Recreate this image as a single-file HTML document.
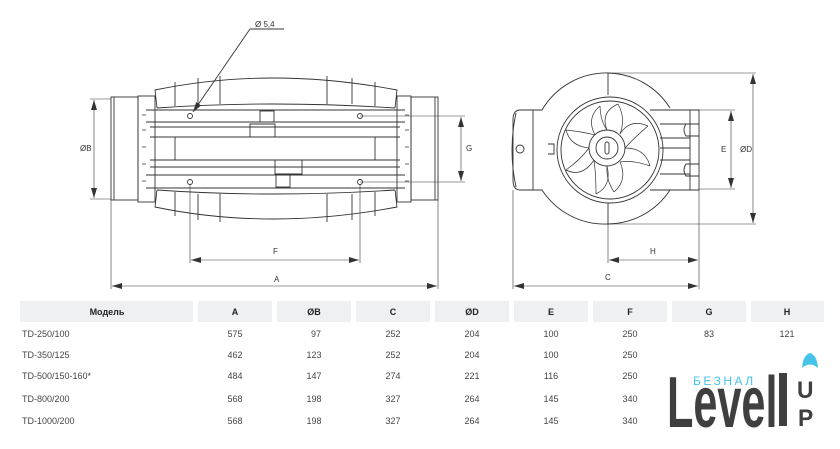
<!DOCTYPE html>
<html><head><meta charset="utf-8"><style>
body{margin:0;background:#fff;}
svg text{font-family:"Liberation Sans",sans-serif;}
</style></head><body>
<svg width="840" height="444" viewBox="0 0 840 444" xmlns="http://www.w3.org/2000/svg">
<defs>
<marker id="ar" viewBox="0 0 10 6" refX="10" refY="3" markerWidth="10" markerHeight="6" orient="auto-start-reverse" markerUnits="userSpaceOnUse"><path d="M0,0 L10,3 L0,6 z" fill="#333"/></marker>
</defs>
<g stroke="#333" stroke-width="0.9" fill="none">
<rect x="111" y="97" width="27" height="103"/>
<line x1="114" y1="97" x2="114" y2="200"/>
<rect x="411" y="97" width="27" height="103"/>
<line x1="435" y1="97" x2="435" y2="200"/>
<rect x="138" y="96" width="17" height="106"/>
<rect x="397" y="96" width="14" height="106"/>
<path d="M157,108 L155,90 Q270,66 397,90 L395,108"/>
<path d="M157,108 Q270,100 395,108"/>
<path d="M157,190 L155,207 Q270,231 397,207 L395,190"/>
<path d="M157,190 Q270,198 395,190"/>
<line x1="175" y1="82" x2="175" y2="106"/><line x1="198" y1="78" x2="198" y2="104"/><line x1="220" y1="76" x2="220" y2="104"/>
<line x1="327" y1="76" x2="327" y2="104"/><line x1="352" y1="78" x2="352" y2="104"/><line x1="375" y1="82" x2="375" y2="106"/>
<line x1="175" y1="192" x2="175" y2="216"/><line x1="198" y1="194" x2="198" y2="220"/><line x1="220" y1="194" x2="220" y2="222"/>
<line x1="327" y1="194" x2="327" y2="222"/><line x1="352" y1="194" x2="352" y2="220"/><line x1="375" y1="192" x2="375" y2="216"/>
<line x1="146" y1="110" x2="405" y2="110"/>
<line x1="146" y1="122" x2="405" y2="122"/>
<line x1="150" y1="127" x2="400" y2="127"/>
<line x1="150" y1="137" x2="400" y2="137"/>
<line x1="150" y1="160" x2="400" y2="160"/>
<line x1="150" y1="167" x2="400" y2="167"/>
<line x1="146" y1="175" x2="405" y2="175"/>
<line x1="146" y1="188" x2="405" y2="188"/>
<line x1="175" y1="137" x2="175" y2="160"/><line x1="375" y1="137" x2="375" y2="160"/>
<path d="M250,137 L250,124 L275,124 L275,137"/>
<path d="M275,160 L275,174 L302,174 L302,160"/>
<rect x="260" y="111" width="14" height="11"/>
<rect x="276" y="175" width="14" height="12"/>
<g stroke-width="0.7">
<path d="M146,115 h-4 M146,130 h-4 M146,147 h-4 M146,164 h-4 M146,181 h-4"/>
<path d="M405,115 h4 M405,130 h4 M405,147 h4 M405,164 h4 M405,181 h4"/>
</g>
<circle cx="190" cy="116" r="2.5"/><circle cx="360" cy="116" r="2.5"/>
<circle cx="190" cy="182" r="2.5"/><circle cx="360" cy="182" r="2.5"/>
<line x1="284" y1="29" x2="250" y2="29"/>
<line x1="250" y1="29" x2="193" y2="112" marker-end="url(#ar)"/>
<g stroke-width="0.6">
<line x1="90" y1="99" x2="111" y2="99"/><line x1="90" y1="199" x2="111" y2="199"/>
<line x1="94" y1="100" x2="94" y2="198" marker-start="url(#ar)" marker-end="url(#ar)"/>
<line x1="360" y1="116" x2="465" y2="116"/><line x1="360" y1="182" x2="465" y2="182"/>
<line x1="461" y1="117" x2="461" y2="181" marker-start="url(#ar)" marker-end="url(#ar)"/>
<line x1="190" y1="185" x2="190" y2="263"/><line x1="360" y1="185" x2="360" y2="263"/>
<line x1="191" y1="260" x2="359" y2="260" marker-start="url(#ar)" marker-end="url(#ar)"/>
<line x1="111" y1="200" x2="111" y2="289"/><line x1="438" y1="200" x2="438" y2="289"/>
<line x1="112" y1="286" x2="437" y2="286" marker-start="url(#ar)" marker-end="url(#ar)"/>
</g>

<path d="M608,73 A75,75 0 0 0 542,110 L520,110 Q513,110 513,120 L513,180 Q513,190 520,190 L542,190 A75,75 0 0 0 608,224"/>
<path d="M608,73 A75,75 0 0 1 670,108"/>
<path d="M608,224 A75,75 0 0 0 670,190"/>
<line x1="608" y1="73" x2="608" y2="95"/><line x1="608" y1="203" x2="608" y2="224"/>
<path d="M533,110 L533,190"/>
<path d="M516,113 Q508,150 516,187"/>
<circle cx="520" cy="149" r="4"/>
<circle cx="610" cy="150" r="53"/>
<circle cx="610" cy="150" r="49"/>
<circle cx="607" cy="148" r="18"/>
<circle cx="607" cy="148" r="11"/>
<rect x="605" y="142" width="4" height="12" rx="2"/>
<g stroke-width="0.7">
<path d="M607,130 Q600,112 618,104"/><path d="M620,134 Q630,118 648,126"/>
<path d="M625,148 Q645,148 650,166"/><path d="M620,162 Q628,180 614,192"/>
<path d="M607,166 Q612,186 596,194"/><path d="M594,160 Q582,178 566,170"/>
<path d="M589,148 Q570,146 566,130"/><path d="M595,135 Q586,118 600,106"/>
<path d="M618,104 Q626,118 620,134"/><path d="M648,126 Q636,136 625,148"/>
<path d="M650,166 Q634,160 620,162"/><path d="M614,192 Q606,180 607,166"/>
<path d="M596,194 Q596,174 594,160"/><path d="M566,170 Q580,160 589,148"/>
<path d="M566,130 Q584,132 595,135"/><path d="M600,106 Q600,120 607,130"/>
</g>
<path d="M650,110 L699,110 L699,190 L650,190"/>
<line x1="690" y1="110" x2="690" y2="190"/>
<line x1="660" y1="124" x2="690" y2="124"/><line x1="660" y1="138" x2="690" y2="138"/>
<line x1="660" y1="148" x2="690" y2="148"/><line x1="660" y1="160" x2="690" y2="160"/>
<line x1="660" y1="174" x2="690" y2="174"/>
<path d="M699,124 L686,124 Q682,130 686,136 L699,136"/>
<path d="M699,164 L686,164 Q682,170 686,176 L699,176"/>
<path d="M548,144 h6 v10 h-6"/>
<g stroke-width="0.6">
<line x1="608" y1="73" x2="756" y2="73"/><line x1="608" y1="224" x2="756" y2="224"/>
<line x1="753" y1="74" x2="753" y2="223" marker-start="url(#ar)" marker-end="url(#ar)"/>
<line x1="699" y1="110" x2="735" y2="110"/><line x1="699" y1="189" x2="735" y2="189"/>
<line x1="731" y1="111" x2="731" y2="188" marker-start="url(#ar)" marker-end="url(#ar)"/>
<line x1="608" y1="224" x2="608" y2="263"/><line x1="699" y1="190" x2="699" y2="289"/>
<line x1="609" y1="260" x2="698" y2="260" marker-start="url(#ar)" marker-end="url(#ar)"/>
<line x1="513" y1="190" x2="513" y2="289"/>
<line x1="514" y1="286" x2="698" y2="286" marker-start="url(#ar)" marker-end="url(#ar)"/>
</g>
</g>
<g fill="#333" font-size="8">
<text x="255" y="27">Ø 5,4</text>
<text x="80" y="151">ØB</text>
<text x="466" y="151">G</text>
<text x="273" y="254">F</text>
<text x="274" y="282">A</text>
<text x="721" y="152">E</text>
<text x="740" y="152">ØD</text>
<text x="650" y="254">H</text>
<text x="605" y="280">C</text>
</g>

<g fill="#eef0f2">
<rect x="20" y="301" width="173" height="21"/>
<rect x="198" y="301" width="74" height="21"/>
<rect x="277" y="301" width="74" height="21"/>
<rect x="356" y="301" width="74" height="21"/>
<rect x="435" y="301" width="74" height="21"/>
<rect x="514" y="301" width="74" height="21"/>
<rect x="593" y="301" width="74" height="21"/>
<rect x="672" y="301" width="74" height="21"/>
<rect x="751" y="301" width="73" height="21"/>
</g>
<g fill="#222" font-size="9" font-weight="bold" text-anchor="middle">
<text x="107" y="315">Модель</text><text x="235" y="315">A</text><text x="314" y="315">ØB</text><text x="393" y="315">C</text>
<text x="472" y="315">ØD</text><text x="551" y="315">E</text><text x="630" y="315">F</text><text x="709" y="315">G</text><text x="787" y="315">H</text>
</g>
<g fill="#444" font-size="9" text-anchor="middle">
<text x="235" y="337">575</text><text x="316" y="337">97</text><text x="393" y="337">252</text><text x="472" y="337">204</text><text x="551" y="337">100</text><text x="630" y="337">250</text><text x="709" y="337">83</text><text x="787" y="337">121</text>
<text x="235" y="358">462</text><text x="314" y="358">123</text><text x="393" y="358">252</text><text x="472" y="358">204</text><text x="551" y="358">100</text><text x="630" y="358">250</text>
<text x="235" y="379">484</text><text x="314" y="379">147</text><text x="393" y="379">274</text><text x="472" y="379">221</text><text x="551" y="379">116</text><text x="630" y="379">250</text>
<text x="235" y="402">568</text><text x="314" y="402">198</text><text x="393" y="402">327</text><text x="472" y="402">264</text><text x="551" y="402">145</text><text x="630" y="402">340</text>
<text x="235" y="424">568</text><text x="314" y="424">198</text><text x="393" y="424">327</text><text x="472" y="424">264</text><text x="551" y="424">145</text><text x="630" y="424">340</text>
</g>
<g fill="#444" font-size="9">
<text x="22" y="337">TD-250/100</text><text x="22" y="358">TD-350/125</text><text x="22" y="379">TD-500/150-160*</text>
<text x="22" y="402">TD-800/200</text><text x="22" y="424">TD-1000/200</text>
</g>

<text x="0" y="0" transform="translate(667,427) scale(0.6,1)" font-size="72" font-weight="bold" fill="#3f3f3f">Level</text>
<text x="693" y="385" font-size="12" fill="#45c3e8" letter-spacing="2.5">БЕЗНАЛ</text>
<rect x="779" y="373" width="8" height="53" fill="#3f3f3f"/>
<text x="0" y="0" transform="translate(797,398) scale(0.95,1)" font-size="24" font-weight="bold" fill="#3f3f3f">U</text>
<text x="0" y="0" transform="translate(798,426) scale(0.95,1)" font-size="24" font-weight="bold" fill="#3f3f3f">P</text>
<path d="M802,368 Q803,355 810,353 Q817,355 818,368 Q810,361 802,368z" fill="#45c3e8"/>
</svg>
</body></html>
